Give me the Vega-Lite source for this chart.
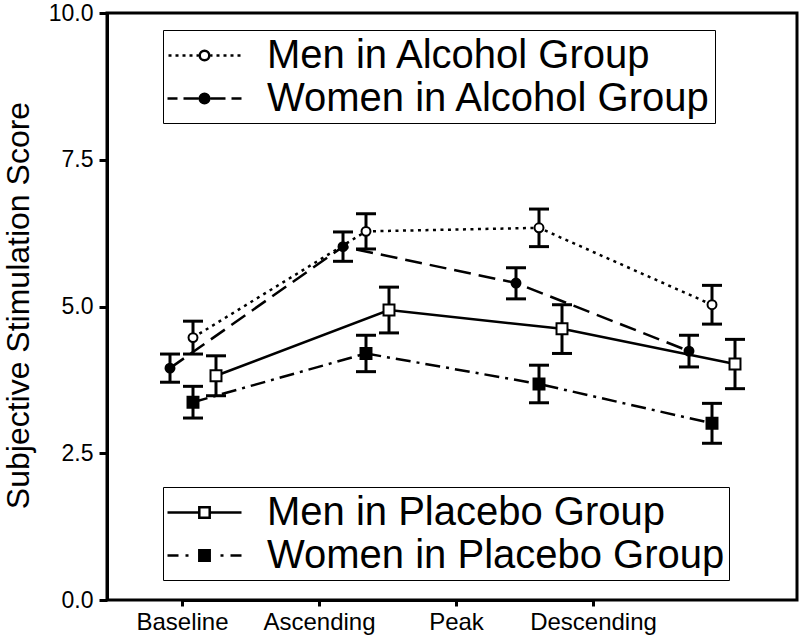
{
  "$schema": "https://vega.github.io/schema/vega-lite/v6.json",
  "width": 690,
  "height": 587,
  "autosize": "none",
  "padding": {"left": 107, "top": 13, "right": 3, "bottom": 39},
  "background": "white",
  "config": {
    "view": {"stroke": "black", "strokeWidth": 3},
    "font": "Liberation Sans",
    "axis": {"labelColor": "black", "titleColor": "black", "domainColor": "black", "tickColor": "black", "domainWidth": 3, "tickWidth": 3, "grid": false, "labelFont": "Liberation Sans", "titleFont": "Liberation Sans", "titleFontWeight": "normal"},
    "legend": {"orient": "none", "title": null, "direction": "vertical", "labelFontSize": 40, "labelFont": "Liberation Sans", "labelColor": "black", "symbolSize": 1600, "symbolStrokeColor": "black", "symbolStrokeWidth": 2.5, "symbolOffset": 16, "labelOffset": 41, "padding": 4, "rowPadding": 1, "strokeColor": "black", "fillColor": "white", "labelLimit": 700, "symbolOpacity": 1}
  },
  "data": {"values": [
    {"group": "Men in Alcohol Group", "phase": "Baseline", "mean": 4.47, "lo": 4.19, "hi": 4.75},
    {"group": "Men in Alcohol Group", "phase": "Ascending", "mean": 6.28, "lo": 5.98, "hi": 6.58},
    {"group": "Men in Alcohol Group", "phase": "Peak", "mean": 6.34, "lo": 6.02, "hi": 6.66},
    {"group": "Men in Alcohol Group", "phase": "Descending", "mean": 5.03, "lo": 4.70, "hi": 5.36},
    {"group": "Women in Alcohol Group", "phase": "Baseline", "mean": 3.95, "lo": 3.71, "hi": 4.19},
    {"group": "Women in Alcohol Group", "phase": "Ascending", "mean": 6.02, "lo": 5.77, "hi": 6.27},
    {"group": "Women in Alcohol Group", "phase": "Peak", "mean": 5.40, "lo": 5.13, "hi": 5.66},
    {"group": "Women in Alcohol Group", "phase": "Descending", "mean": 4.24, "lo": 3.97, "hi": 4.51},
    {"group": "Men in Placebo Group", "phase": "Baseline", "mean": 3.82, "lo": 3.48, "hi": 4.16},
    {"group": "Men in Placebo Group", "phase": "Ascending", "mean": 4.94, "lo": 4.55, "hi": 5.33},
    {"group": "Men in Placebo Group", "phase": "Peak", "mean": 4.62, "lo": 4.20, "hi": 5.03},
    {"group": "Men in Placebo Group", "phase": "Descending", "mean": 4.02, "lo": 3.60, "hi": 4.44},
    {"group": "Women in Placebo Group", "phase": "Baseline", "mean": 3.37, "lo": 3.10, "hi": 3.64},
    {"group": "Women in Placebo Group", "phase": "Ascending", "mean": 4.20, "lo": 3.89, "hi": 4.51},
    {"group": "Women in Placebo Group", "phase": "Peak", "mean": 3.68, "lo": 3.36, "hi": 4.00},
    {"group": "Women in Placebo Group", "phase": "Descending", "mean": 3.01, "lo": 2.67, "hi": 3.35}
  ]},
  "layer": [
    {
      "mark": {"type": "point", "opacity": 0},
      "encoding": {
        "x": {"field": "phase", "type": "ordinal", "sort": ["Baseline", "Ascending", "Peak", "Descending"], "scale": {"type": "point", "range": [75, 486], "padding": 0}, "axis": {"title": null, "labelFontSize": 24, "labelAngle": 0, "tickSize": 6, "labelPadding": 4}}
      }
    },
    {
      "encoding": {
        "x": {"field": "phase", "type": "ordinal", "sort": ["Baseline", "Ascending", "Peak", "Descending"], "scale": {"type": "point", "range": [86, 605], "padding": 0}, "axis": null},
        "y": {"field": "mean", "type": "quantitative", "scale": {"domain": [0, 10], "nice": false}, "axis": {"title": "Subjective Stimulation Score", "values": [0, 2.5, 5, 7.5, 10], "format": ".1f", "labelFontSize": 23, "tickSize": 8, "labelPadding": 6, "titleFontSize": 32, "titleX": -79, "titleY": 292, "titleAngle": 270, "titleAlign": "center", "titleBaseline": "alphabetic"}}
      },
      "layer": [
        {
          "transform": [{"filter": {"field": "group", "equal": "Men in Alcohol Group"}}],
          "layer": [
            {"mark": {"type": "line", "stroke": "black", "strokeWidth": 2.5, "strokeDash": [3, 4.5]}, "encoding": {"order": {"value": null}}},
            {"mark": {"type": "rule", "stroke": "black", "strokeWidth": 3}, "encoding": {"y": {"field": "lo", "type": "quantitative", "scale": {"domain": [0, 10], "nice": false}}, "y2": {"field": "hi"}}},
            {"mark": {"type": "tick", "color": "black", "orient": "horizontal", "size": 20, "thickness": 3, "opacity": 1}, "encoding": {"y": {"field": "lo", "type": "quantitative", "scale": {"domain": [0, 10], "nice": false}}}},
            {"mark": {"type": "tick", "color": "black", "orient": "horizontal", "size": 20, "thickness": 3, "opacity": 1}, "encoding": {"y": {"field": "hi", "type": "quantitative", "scale": {"domain": [0, 10], "nice": false}}}},
            {"mark": {"type": "point", "shape": "circle", "filled": true, "fill": "white", "stroke": "black", "strokeWidth": 2, "size": 80, "opacity": 1}, "encoding": {}}
          ]
        },
        {
          "transform": [{"filter": {"field": "group", "equal": "Women in Alcohol Group"}}],
          "layer": [
            {"mark": {"type": "line", "stroke": "black", "strokeWidth": 2.5, "strokeDash": [17, 8], "xOffset": -23}, "encoding": {"order": {"value": null}}},
            {"mark": {"type": "rule", "stroke": "black", "strokeWidth": 3, "xOffset": -23}, "encoding": {"y": {"field": "lo", "type": "quantitative", "scale": {"domain": [0, 10], "nice": false}}, "y2": {"field": "hi"}}},
            {"mark": {"type": "tick", "color": "black", "orient": "horizontal", "size": 20, "thickness": 3, "opacity": 1, "xOffset": -23}, "encoding": {"y": {"field": "lo", "type": "quantitative", "scale": {"domain": [0, 10], "nice": false}}}},
            {"mark": {"type": "tick", "color": "black", "orient": "horizontal", "size": 20, "thickness": 3, "opacity": 1, "xOffset": -23}, "encoding": {"y": {"field": "hi", "type": "quantitative", "scale": {"domain": [0, 10], "nice": false}}}},
            {"mark": {"type": "point", "shape": "circle", "filled": true, "fill": "black", "stroke": "black", "strokeWidth": 2, "size": 80, "opacity": 1, "xOffset": -23}, "encoding": {}}
          ]
        },
        {
          "transform": [{"filter": {"field": "group", "equal": "Men in Placebo Group"}}],
          "layer": [
            {"mark": {"type": "line", "stroke": "black", "strokeWidth": 2.5, "xOffset": 23}, "encoding": {"order": {"value": null}}},
            {"mark": {"type": "rule", "stroke": "black", "strokeWidth": 3, "xOffset": 23}, "encoding": {"y": {"field": "lo", "type": "quantitative", "scale": {"domain": [0, 10], "nice": false}}, "y2": {"field": "hi"}}},
            {"mark": {"type": "tick", "color": "black", "orient": "horizontal", "size": 20, "thickness": 3, "opacity": 1, "xOffset": 23}, "encoding": {"y": {"field": "lo", "type": "quantitative", "scale": {"domain": [0, 10], "nice": false}}}},
            {"mark": {"type": "tick", "color": "black", "orient": "horizontal", "size": 20, "thickness": 3, "opacity": 1, "xOffset": 23}, "encoding": {"y": {"field": "hi", "type": "quantitative", "scale": {"domain": [0, 10], "nice": false}}}},
            {"mark": {"type": "point", "shape": "square", "filled": true, "fill": "white", "stroke": "black", "strokeWidth": 2, "size": 120, "opacity": 1, "xOffset": 23}, "encoding": {}}
          ]
        },
        {
          "transform": [{"filter": {"field": "group", "equal": "Women in Placebo Group"}}],
          "layer": [
            {"mark": {"type": "line", "stroke": "black", "strokeWidth": 2.5, "strokeDash": [15, 6, 3, 6]}, "encoding": {"order": {"value": null}}},
            {"mark": {"type": "rule", "stroke": "black", "strokeWidth": 3}, "encoding": {"y": {"field": "lo", "type": "quantitative", "scale": {"domain": [0, 10], "nice": false}}, "y2": {"field": "hi"}}},
            {"mark": {"type": "tick", "color": "black", "orient": "horizontal", "size": 20, "thickness": 3, "opacity": 1}, "encoding": {"y": {"field": "lo", "type": "quantitative", "scale": {"domain": [0, 10], "nice": false}}}},
            {"mark": {"type": "tick", "color": "black", "orient": "horizontal", "size": 20, "thickness": 3, "opacity": 1}, "encoding": {"y": {"field": "hi", "type": "quantitative", "scale": {"domain": [0, 10], "nice": false}}}},
            {"mark": {"type": "point", "shape": "square", "filled": true, "fill": "black", "stroke": "black", "strokeWidth": 2, "size": 120, "opacity": 1}, "encoding": {}}
          ]
        }
      ]
    },
    {
      "transform": [{"filter": {"field": "group", "equal": "none"}}],
      "mark": {"type": "point", "stroke": "black", "strokeWidth": 2.5},
      "encoding": {
        "shape": {"field": "group", "type": "nominal", "scale": {"domain": ["Men in Alcohol Group", "Women in Alcohol Group"], "range": ["M-1.8,0L-1.65,0M-1.45,0L-1.3,0M-1.1,0L-0.95,0M-0.75,0L-0.6,0M-0.4,0L-0.3,0M0.3,0L0.4,0M0.6,0L0.75,0M0.95,0L1.1,0M1.3,0L1.45,0M1.65,0L1.8,0M-0.24,0A0.24,0.24,0,1,0,0.24,0A0.24,0.24,0,1,0,-0.24,0Z", "M-1.85,0L-1.35,0M-1.05,0L-0.3,0M0.3,0L1.05,0M1.35,0L1.85,0M-0.24,0A0.24,0.24,0,1,0,0.24,0A0.24,0.24,0,1,0,-0.24,0Z"]}, "legend": {"legendX": 56, "legendY": 17}},
        "fill": {"field": "group", "type": "nominal", "scale": {"domain": ["Men in Alcohol Group", "Women in Alcohol Group"], "range": ["white", "black"]}, "legend": {"legendX": 56, "legendY": 17}},
        "stroke": {"field": "group", "type": "nominal", "scale": {"domain": ["Men in Alcohol Group", "Women in Alcohol Group"], "range": ["black", "black"]}, "legend": {"legendX": 56, "legendY": 17}}
      }
    },
    {
      "transform": [{"filter": {"field": "group", "equal": "none"}}],
      "mark": {"type": "point", "stroke": "black", "strokeWidth": 2.5},
      "encoding": {
        "shape": {"field": "group", "type": "nominal", "scale": {"domain": ["Men in Placebo Group", "Women in Placebo Group"], "range": ["M-1.85,0L-0.26,0M0.26,0L1.85,0M-0.26,-0.26L0.26,-0.26L0.26,0.26L-0.26,0.26Z", "M-1.85,0L-1.3,0M-0.95,0L-0.8,0M0.8,0L0.95,0M1.3,0L1.85,0M-0.26,-0.26L0.26,-0.26L0.26,0.26L-0.26,0.26Z"]}, "legend": {"legendX": 56, "legendY": 474}},
        "fill": {"field": "group", "type": "nominal", "scale": {"domain": ["Men in Placebo Group", "Women in Placebo Group"], "range": ["white", "black"]}, "legend": {"legendX": 56, "legendY": 474}},
        "stroke": {"field": "group", "type": "nominal", "scale": {"domain": ["Men in Placebo Group", "Women in Placebo Group"], "range": ["black", "black"]}, "legend": {"legendX": 56, "legendY": 474}}
      }
    }
  ],
  "resolve": {"scale": {"x": "independent", "shape": "independent", "fill": "independent", "stroke": "independent"}}
}
